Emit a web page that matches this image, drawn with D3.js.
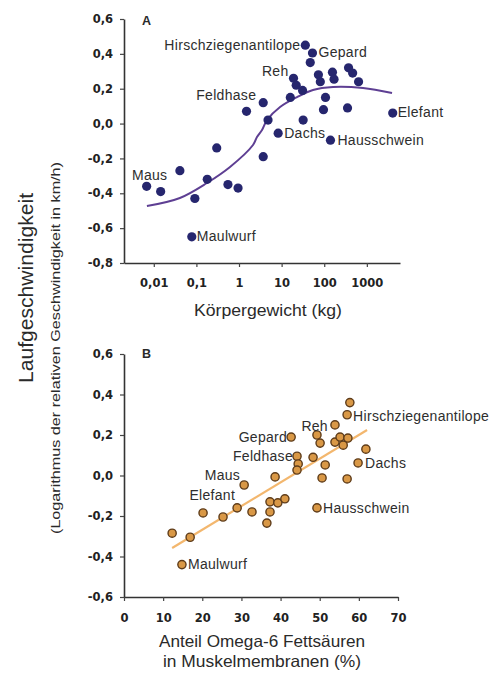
<!DOCTYPE html>
<html>
<head>
<meta charset="utf-8">
<script src="https://cdn.jsdelivr.net/npm/d3@7"></script>
<style>
  html, body { margin: 0; padding: 0; background: #fff; }
  svg { display: block; }
  .lbl { font-family: "Liberation Sans", Arial, sans-serif; font-size: 14px; fill: #2e2e2e; letter-spacing: 0.3px; }
  .tick text { font-family: "DejaVu Sans", sans-serif; font-weight: bold; font-size: 11.5px; fill: #222; }
  .title { font-family: "Liberation Sans", Arial, sans-serif; fill: #2a2a2a; }
</style>
</head>
<body>
<svg id="chart" width="499" height="684"></svg>
<script>
// Panel A: body mass (kg) vs. log relative running speed
const massA  = [0.0068, 0.0145, 0.041, 0.092, 0.078, 0.18, 0.30, 0.55, 0.95, 3.7,
                3.7, 1.5, 4.8, 8.3, 16, 19, 22, 31, 32, 36,
                53, 47, 73, 81, 96, 107, 140, 156, 170, 372,
                464, 352, 640, 4050];
const speedA = [-0.36, -0.39, -0.27, -0.43, -0.65, -0.32, -0.14, -0.35, -0.37, -0.19,
                0.12, 0.07, 0.02, -0.055, 0.15, 0.26, 0.22, 0.19, 0.02, 0.45,
                0.405, 0.35, 0.28, 0.24, 0.08, 0.15, -0.095, 0.295, 0.255, 0.32,
                0.29, 0.09, 0.24, 0.06];
const namesA = ["Maus", null, null, null, "Maulwurf", null, null, null, null, null,
                "Feldhase", null, null, "Dachs", null, "Reh", null, null, null, "Hirschziegenantilope",
                "Gepard", null, null, null, null, null, "Hausschwein", null, null, null,
                null, null, null, "Elefant"];

// Fitted sigmoid curve through panel A
const curveMassA  = [0.0069, 0.041, 0.177, 0.615, 2.13, 2.64, 3.47, 4.54, 9.2, 23, 54.5, 161, 813, 3900];
const curveSpeedA = [-0.473, -0.427, -0.341, -0.249, -0.123, -0.077, -0.037, 0.020, 0.095, 0.152, 0.193, 0.210, 0.204, 0.175];

const massTicks      = [0.01, 0.1, 1, 10, 100, 1000];
const massTickLabels = ["0,01", "0,1", "1", "10", "100", "1000"];
const speedTicksA    = [-0.8, -0.6, -0.4, -0.2, 0.0, 0.2, 0.4, 0.6];

// Panel B: omega-6 share in muscle membranes (%) vs. log relative running speed
const omegaB = [57.7, 57.0, 53.9, 49.3, 50.1, 53.9, 55.2, 56.0, 57.2, 61.8,
                42.7, 44.2, 44.5, 44.2, 48.3, 51.4, 59.8, 38.6, 50.6, 57.0,
                30.7, 28.9, 32.7, 20.2, 25.3, 37.3, 39.3, 41.1, 37.3, 36.5,
                49.3, 12.3, 16.9, 14.8];
const speedB = [0.36, 0.30, 0.25, 0.20, 0.16, 0.165, 0.19, 0.15, 0.185, 0.13,
                0.19, 0.095, 0.057, 0.027, 0.09, 0.052, 0.062, -0.007, -0.012, -0.017,
                -0.047, -0.16, -0.18, -0.185, -0.205, -0.13, -0.135, -0.115, -0.18, -0.235,
                -0.16, -0.285, -0.305, -0.44];
const namesB = [null, "Hirschziegenantilope", "Reh", null, null, null, null, null, null, null,
                "Gepard", "Feldhase", null, null, null, null, "Dachs", null, null, null,
                "Maus", "Elefant", null, null, null, null, null, null, null, null,
                "Hausschwein", null, null, "Maulwurf"];

// Regression line for panel B
const fitOmegaB = [12.3, 62.1];
const fitSpeedB = [-0.358, 0.225];

const omegaTicks  = [0, 10, 20, 30, 40, 50, 60, 70];
const speedTicksB = [-0.6, -0.4, -0.2, 0.0, 0.2, 0.4, 0.6];

// Label placement around each named point: [anchor, dx, dy]
const placeA = {
  "Maus": ["middle", 3, -6], "Maulwurf": ["start", 5, 4.5], "Feldhase": ["end", -7, -3],
  "Dachs": ["start", 6, 5], "Reh": ["end", -5, -2], "Hirschziegenantilope": ["end", -5, 5],
  "Gepard": ["start", 6, 4], "Hausschwein": ["start", 7, 5], "Elefant": ["start", 5, 4]
};
const placeB = {
  "Hirschziegenantilope": ["start", 6, 6], "Reh": ["end", -7, 6], "Gepard": ["end", -4, 4.5],
  "Feldhase": ["end", -4, 4.5], "Dachs": ["start", 7, 5], "Maus": ["end", -4, -5],
  "Elefant": ["end", -2, -8], "Hausschwein": ["start", 6, 5], "Maulwurf": ["start", 6, 4.5]
};

const svg = d3.select("#chart");
const comma = d => d.toFixed(1).replace(".", ",");

function styleAxis(g) {
  g.select(".domain").attr("stroke", "#333").attr("stroke-width", 1.6);
  g.selectAll(".tick line").attr("stroke", "#444").attr("stroke-width", 1.2);
}

// ---------- Panel A ----------
const xA = d3.scaleLog().domain([0.002, 6000]).range([124, 400]);
const yA = d3.scaleLinear().domain([-0.8, 0.6]).range([263, 19]);

svg.append("g").attr("transform", "translate(124,0)")
  .call(d3.axisLeft(yA).tickValues(speedTicksA).tickFormat(comma).tickSize(4).tickSizeOuter(0).tickPadding(7))
  .call(styleAxis);
svg.append("g").attr("transform", "translate(0,263)")
  .call(d3.axisBottom(xA).tickValues(massTicks).tickFormat((d, i) => massTickLabels[i]).tickSize(4).tickSizeOuter(0).tickPadding(12))
  .call(styleAxis);

const lineA = d3.line().x(d => xA(d[0])).y(d => yA(d[1])).curve(d3.curveCatmullRom.alpha(0.5));
svg.append("path")
  .datum(curveMassA.map((m, i) => [m, curveSpeedA[i]]))
  .attr("d", lineA).attr("fill", "none").attr("stroke", "#5e3f93").attr("stroke-width", 2);

svg.append("g").selectAll("circle")
  .data(massA.map((m, i) => [m, speedA[i]]))
  .join("circle")
  .attr("cx", d => xA(d[0])).attr("cy", d => yA(d[1])).attr("r", 4.6)
  .attr("fill", "#26266e");

svg.append("g").selectAll("text")
  .data(namesA.map((n, i) => ({ n, x: massA[i], y: speedA[i] })).filter(d => d.n))
  .join("text").attr("class", "lbl")
  .attr("x", d => xA(d.x) + placeA[d.n][1]).attr("y", d => yA(d.y) + placeA[d.n][2])
  .attr("text-anchor", d => placeA[d.n][0]).text(d => d.n);

svg.append("text").attr("class", "title").attr("x", 142).attr("y", 25)
  .attr("font-size", 12.5).attr("font-weight", "bold").text("A");
svg.append("text").attr("class", "title").attr("x", 268).attr("y", 316)
  .attr("font-size", 16.5).attr("text-anchor", "middle")
  .attr("textLength", 148).attr("lengthAdjust", "spacingAndGlyphs")
  .text("Körpergewicht (kg)");

// ---------- Panel B ----------
const xB = d3.scaleLinear().domain([0, 70]).range([124, 398]);
const yB = d3.scaleLinear().domain([-0.6, 0.6]).range([597, 354]);

svg.append("g").attr("transform", "translate(124,0)")
  .call(d3.axisLeft(yB).tickValues(speedTicksB).tickFormat(comma).tickSize(4).tickSizeOuter(0).tickPadding(7))
  .call(styleAxis);
svg.append("g").attr("transform", "translate(0,597)")
  .call(d3.axisBottom(xB).tickValues(omegaTicks).tickFormat(d3.format("d")).tickSize(4).tickSizeOuter(0).tickPadding(13))
  .call(styleAxis);

svg.append("line")
  .attr("x1", xB(fitOmegaB[0])).attr("y1", yB(fitSpeedB[0]))
  .attr("x2", xB(fitOmegaB[1])).attr("y2", yB(fitSpeedB[1]))
  .attr("stroke", "#f3b76e").attr("stroke-width", 2.2);

svg.append("g").selectAll("circle")
  .data(omegaB.map((o, i) => [o, speedB[i]]))
  .join("circle")
  .attr("cx", d => xB(d[0])).attr("cy", d => yB(d[1])).attr("r", 4.1)
  .attr("fill", "#d99846").attr("stroke", "#5e3c1a").attr("stroke-width", 1.4);

svg.append("g").selectAll("text")
  .data(namesB.map((n, i) => ({ n, x: omegaB[i], y: speedB[i] })).filter(d => d.n))
  .join("text").attr("class", "lbl")
  .attr("x", d => xB(d.x) + placeB[d.n][1]).attr("y", d => yB(d.y) + placeB[d.n][2])
  .attr("text-anchor", d => placeB[d.n][0]).text(d => d.n);

svg.append("text").attr("class", "title").attr("x", 142).attr("y", 358)
  .attr("font-size", 12.5).attr("font-weight", "bold").text("B");
svg.append("text").attr("class", "title").attr("x", 262).attr("y", 647)
  .attr("font-size", 16.5).attr("text-anchor", "middle")
  .attr("textLength", 206).attr("lengthAdjust", "spacingAndGlyphs")
  .text("Anteil Omega-6 Fettsäuren");
svg.append("text").attr("class", "title").attr("x", 262).attr("y", 667)
  .attr("font-size", 16.5).attr("text-anchor", "middle")
  .attr("textLength", 198).attr("lengthAdjust", "spacingAndGlyphs")
  .text("in Muskelmembranen (%)");

// ---------- Shared y-axis titles ----------
svg.append("text").attr("class", "title")
  .attr("transform", "translate(33,288) rotate(-90)")
  .attr("font-size", 20).attr("text-anchor", "middle")
  .attr("textLength", 190).attr("lengthAdjust", "spacingAndGlyphs")
  .text("Laufgeschwindigkeit");
svg.append("text").attr("class", "title")
  .attr("transform", "translate(60,348) rotate(-90)")
  .attr("font-size", 12).attr("text-anchor", "middle")
  .attr("textLength", 372).attr("lengthAdjust", "spacingAndGlyphs")
  .text("(Logarithmus der relativen Geschwindigkeit in km/h)");
</script>
</body>
</html>
